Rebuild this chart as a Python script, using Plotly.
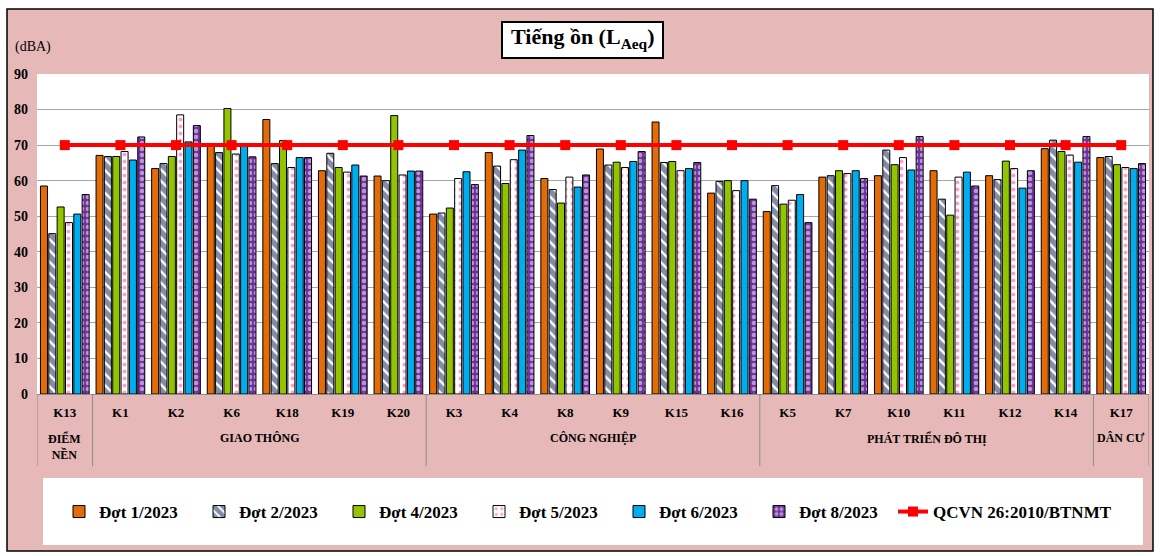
import plotly.graph_objects as go

# Monitoring points and their zones
points = ["K13", "K1", "K2", "K6", "K18", "K19", "K20",
          "K3", "K4", "K8", "K9", "K15", "K16",
          "K5", "K7", "K10", "K11", "K12", "K14", "K17"]

zones = [
    ("ĐIỂM<br>NỀN", 0, 0),
    ("GIAO THÔNG", 1, 6),
    ("CÔNG NGHIỆP", 7, 12),
    ("PHÁT TRIỂN ĐÔ THỊ", 13, 18),
    ("DÂN CƯ", 19, 19),
]

# Noise levels LAeq (dBA) per survey round
dot_1 = [58.5, 67.1, 63.4, 70.0, 77.2, 62.8, 61.3, 50.6, 67.9, 60.6, 68.9, 76.5, 56.5, 51.3, 61.0, 61.4, 62.8, 61.4, 69.0, 66.5]
dot_2 = [45.1, 66.8, 64.8, 67.9, 64.8, 67.7, 60.0, 50.9, 64.1, 57.5, 64.4, 65.1, 59.8, 58.6, 61.4, 68.6, 54.8, 60.3, 71.4, 66.8]
dot_4 = [52.6, 66.8, 66.8, 80.3, 71.3, 63.7, 78.3, 52.3, 59.2, 53.7, 65.2, 65.4, 60.0, 53.4, 62.8, 64.5, 50.3, 65.5, 68.2, 64.5]
dot_5 = [48.2, 68.2, 78.5, 67.5, 63.7, 62.4, 61.6, 60.6, 65.9, 61.0, 63.7, 62.8, 57.2, 54.5, 62.0, 66.5, 61.0, 63.4, 67.2, 63.7]
dot_6 = [50.6, 65.8, 70.9, 69.6, 66.5, 64.4, 62.7, 62.5, 68.6, 58.2, 65.4, 63.4, 60.0, 56.1, 62.8, 63.0, 62.4, 57.9, 65.2, 63.4]
dot_8 = [56.1, 72.3, 75.5, 66.7, 66.5, 61.3, 62.7, 58.9, 72.7, 61.6, 68.2, 65.1, 54.8, 48.2, 60.6, 72.4, 58.5, 62.8, 72.4, 64.8]
qcvn_limit = [70] * len(points)

y_ticks = [0, 10, 20, 30, 40, 50, 60, 70, 80, 90]

SERIF = "Liberation Serif"

series = [
    ("Đợt 1/2023", dot_1, dict(color="#E36C09")),
    ("Đợt 2/2023", dot_2, dict(color="white", pattern=dict(shape="\\", fgcolor="#071A4D", bgcolor="white", size=8, solidity=0.7))),
    ("Đợt 4/2023", dot_4, dict(color="#92C500")),
    ("Đợt 5/2023", dot_5, dict(color="white", pattern=dict(shape=".", fgcolor="#FF3D96", bgcolor="white", size=7, solidity=0.25))),
    ("Đợt 6/2023", dot_6, dict(color="#00AEEF")),
    ("Đợt 8/2023", dot_8, dict(color="#7030A0", pattern=dict(shape=".", fgcolor="white", bgcolor="#7030A0", size=6, solidity=0.45))),
]

fig = go.Figure()
for name, vals, mk in series:
    mk = dict(mk)
    mk["line"] = dict(color="black", width=1)
    fig.add_trace(go.Bar(name=name, x=points, y=vals, marker=mk))

fig.add_trace(go.Scatter(
    name="QCVN 26:2010/BTNMT", x=points, y=qcvn_limit, mode="lines+markers",
    line=dict(color="#FF0000", width=4),
    marker=dict(symbol="square", size=10, color="#FF0000"),
    legend="legend2",
))

PW, PH = 1112, 320  # plot area size in px
L, T = 37, 74


def px_x(p):
    return (p - L) / PW


def px_y(p):
    return (T + PH - p) / PH


shapes = [
    # chart frame
    dict(type="rect", xref="paper", yref="paper", x0=px_x(7), x1=px_x(1153), y0=px_y(551), y1=px_y(9),
         fillcolor="#E6B8B7", line=dict(color="black", width=1.5), layer="below"),
    # plot area
    dict(type="rect", xref="paper", yref="paper", x0=0, x1=1, y0=0, y1=1,
         fillcolor="white", line=dict(width=0), layer="below"),
    # legend panel
    dict(type="rect", xref="paper", yref="paper", x0=px_x(43), x1=px_x(1143), y0=px_y(545), y1=px_y(478),
         fillcolor="white", line=dict(width=0), layer="below"),
    # title box
    dict(type="rect", xref="paper", yref="paper", x0=px_x(502), x1=px_x(663), y0=px_y(58), y1=px_y(22),
         fillcolor="white", line=dict(color="black", width=2), layer="below"),
]

# zone separators below the axis
for b in [-0.5, 0.5, 6.5, 12.5, 18.5, 19.5]:
    shapes.append(dict(type="line", xref="x", yref="paper", x0=b, x1=b, y0=0, y1=px_y(466),
                       line=dict(color="#8C8C8C", width=1)))

annotations = [
    dict(text="<b>Tiếng ồn (L<sub>Aeq</sub>)</b>", xref="paper", yref="paper",
         x=px_x(582), y=px_y(38), xanchor="center", yanchor="middle", showarrow=False,
         font=dict(family=SERIF, size=22, color="black")),
    dict(text="(dBA)", xref="paper", yref="paper", x=px_x(33), y=px_y(47),
         xanchor="center", yanchor="middle", showarrow=False,
         font=dict(family=SERIF, size=14, color="black")),
]
for label, a, b in zones:
    yy = px_y(446) if "<br>" in label else px_y(438)
    annotations.append(dict(text="<b>" + label + "</b>", xref="x", yref="paper", x=(a + b) / 2, y=yy,
                            xanchor="center", yanchor="middle", showarrow=False,
                            font=dict(family=SERIF, size=12, color="black")))

legend_font = dict(family=SERIF, size=17, color="black", weight="bold")

fig.update_layout(
    width=1160, height=556,
    margin=dict(l=L, r=1160 - L - PW, t=T, b=556 - T - PH),
    paper_bgcolor="white", plot_bgcolor="rgba(0,0,0,0)",
    barmode="group", bargap=0.1, bargroupgap=0.16,
    shapes=shapes, annotations=annotations,
    showlegend=True,
    legend=dict(orientation="h", x=px_x(59), y=px_y(512), xanchor="left", yanchor="middle",
                bgcolor="rgba(0,0,0,0)", font=legend_font,
                entrywidth=95, entrywidthmode="pixels", traceorder="normal"),
    legend2=dict(orientation="h", x=px_x(893), y=px_y(512), xanchor="left", yanchor="middle",
                 bgcolor="rgba(0,0,0,0)", font=legend_font),
    xaxis=dict(type="category", range=[-0.5, 19.5], showgrid=False, showline=True,
               linecolor="#8C8C8C", linewidth=1, ticks="", ticklabelstandoff=6,
               tickfont=dict(family=SERIF, size=13, color="black", weight="bold")),
    yaxis=dict(range=[0, 90], tickvals=y_ticks, showgrid=True, gridcolor="#A6A6A6", gridwidth=1,
               zeroline=False, showline=False, ticks="", ticklabelstandoff=8,
               tickfont=dict(family=SERIF, size=14, color="black", weight="bold")),
    font=dict(family=SERIF),
)

fig.write_html("out.html")
